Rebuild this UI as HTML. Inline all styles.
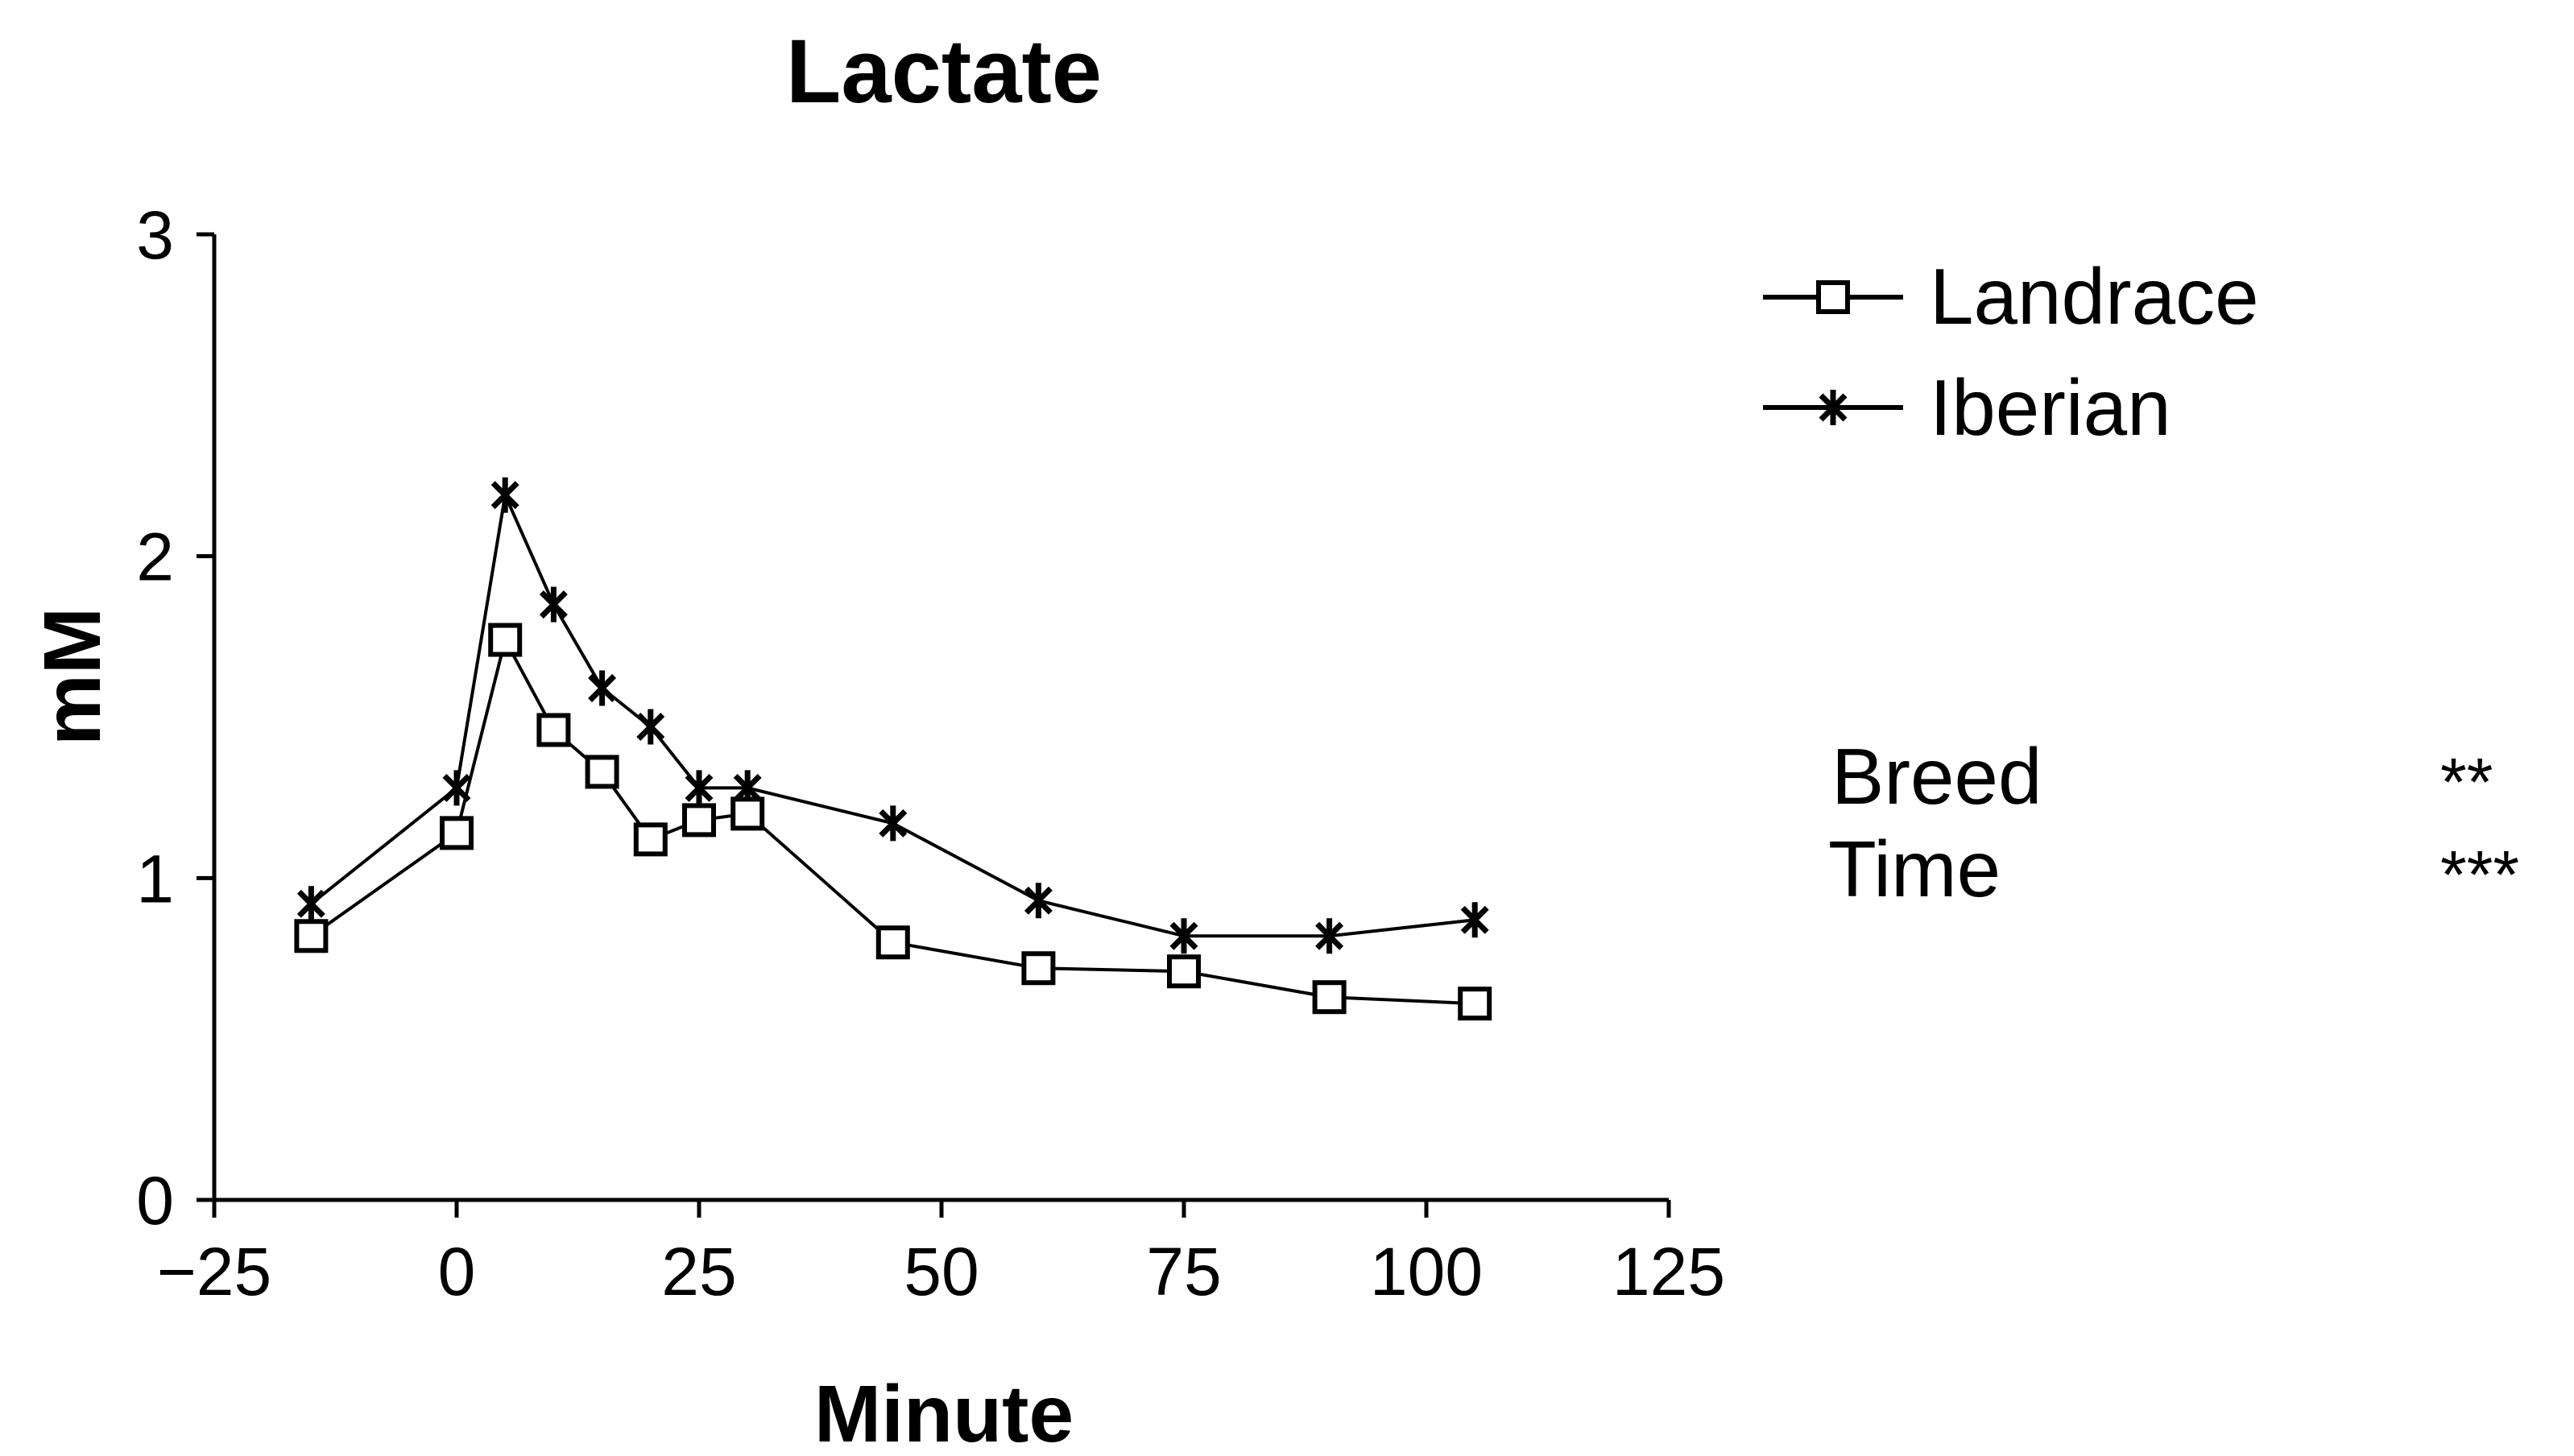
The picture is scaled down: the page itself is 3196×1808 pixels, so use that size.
<!DOCTYPE html>
<html><head><meta charset="utf-8"><style>
html,body{margin:0;padding:0;background:#fff;}
svg{display:block;font-family:"Liberation Sans",Arial,sans-serif;}
</style></head><body>
<svg id="chart" width="3196" height="1808" viewBox="0 0 3196 1808" xmlns="http://www.w3.org/2000/svg">
<text x="1172" y="127" font-size="112" font-weight="bold" text-anchor="middle">Lactate</text>
<g id="axes"></g>
<g id="series"></g>
<g>
  <line x1="2189" y1="369" x2="2363" y2="369" stroke="#000" stroke-width="6"/>
  <rect x="2258" y="351" width="36" height="36" fill="#fff" stroke="#000" stroke-width="6"/>
  <text x="2396" y="402" font-size="98">Landrace</text>
  <line x1="2189" y1="506" x2="2363" y2="506" stroke="#000" stroke-width="6"/>
  <g stroke="#000" stroke-width="7">
    <line x1="2276" y1="484" x2="2276" y2="528"/>
    <line x1="2261" y1="491" x2="2291" y2="521"/>
    <line x1="2261" y1="521" x2="2291" y2="491"/>
  </g>
  <text x="2396" y="540" font-size="98">Iberian</text>
</g>
<text x="2274" y="998" font-size="98">Breed</text>
<text x="2270" y="1113" font-size="98">Time</text>
<text x="3030" y="1000" font-size="84">**</text>
<text x="3030" y="1115" font-size="84">***</text>
<text transform="translate(124,840) rotate(-90)" font-size="100" font-weight="bold" text-anchor="middle">mM</text>
<text x="1172" y="1790" font-size="100" font-weight="bold" text-anchor="middle">Minute</text>
</svg>
<script>
const minutes = [-15, 0, 5, 10, 15, 20, 25, 30, 45, 60, 75, 90, 105];
const landrace = [0.82, 1.14, 1.74, 1.46, 1.33, 1.12, 1.18, 1.20, 0.80, 0.72, 0.71, 0.63, 0.61];
const iberian = [0.92, 1.28, 2.19, 1.85, 1.59, 1.47, 1.28, 1.28, 1.17, 0.93, 0.82, 0.82, 0.87];
const xTicks = [-25, 0, 25, 50, 75, 100, 125];
const xTickLabels = ["\u221225", "0", "25", "50", "75", "100", "125"];
const yTicks = [0, 1, 2, 3];
const yTickLabels = ["0", "1", "2", "3"];

const NS = "http://www.w3.org/2000/svg";
const X0 = 266, X1 = 2072, Y0 = 1490, Y1 = 291;
function xs(v){ return X0 + (v - (-25)) / 150 * (X1 - X0); }
function ys(v){ return Y0 - v / 3 * (Y0 - Y1); }
function mk(tag, attrs, parent){ const e = document.createElementNS(NS, tag); for (const k in attrs) e.setAttribute(k, attrs[k]); parent.appendChild(e); return e; }

const axes = document.getElementById('axes');
let el = mk('line', {x1:X0, y1:Y1, x2:X0, y2:Y0, stroke:'#000', 'stroke-width':5}, axes);


el = mk('line', {x1:X0, y1:Y0, x2:X1, y2:Y0, stroke:'#000', 'stroke-width':5}, axes);


xTicks.forEach((t, i) => {
  const x = xs(t);
  const tk = mk('line', {x1:x, y1:Y0, x2:x, y2:Y0 + 22, stroke:'#000', 'stroke-width':5}, axes);
  
  
  const lb = mk('text', {x:x, y:1608, 'font-size':84, 'text-anchor':'middle'}, axes);
  lb.textContent = xTickLabels[i];
  
  
});
yTicks.forEach((t, i) => {
  const y = ys(t);
  const tk = mk('line', {x1:X0 - 22, y1:y, x2:X0, y2:y, stroke:'#000', 'stroke-width':5}, axes);
  
  
  const lb = mk('text', {x:216, y:y + 30, 'font-size':84, 'text-anchor':'end'}, axes);
  lb.textContent = yTickLabels[i];
  
  
});

const series = document.getElementById('series');
function pts(vals){ return vals.map((v, i) => xs(minutes[i]) + ',' + ys(v)).join(' '); }
el = mk('polyline', {points:pts(iberian), fill:'none', stroke:'#000', 'stroke-width':4}, series);


el = mk('polyline', {points:pts(landrace), fill:'none', stroke:'#000', 'stroke-width':4}, series);


iberian.forEach((v, i) => {
  const cx = xs(minutes[i]), cy = ys(v);
  const g = mk('g', {stroke:'#000', 'stroke-width':7}, series);
  
  
  mk('line', {x1:cx, y1:cy - 22, x2:cx, y2:cy + 22}, g);
  mk('line', {x1:cx - 15, y1:cy - 15, x2:cx + 15, y2:cy + 15}, g);
  mk('line', {x1:cx - 15, y1:cy + 15, x2:cx + 15, y2:cy - 15}, g);
});
landrace.forEach((v, i) => {
  const r = mk('rect', {x:xs(minutes[i]) - 18, y:ys(v) - 18, width:36, height:36, fill:'#fff', stroke:'#000', 'stroke-width':6}, series);
  
  
});
</script>
</body></html>
